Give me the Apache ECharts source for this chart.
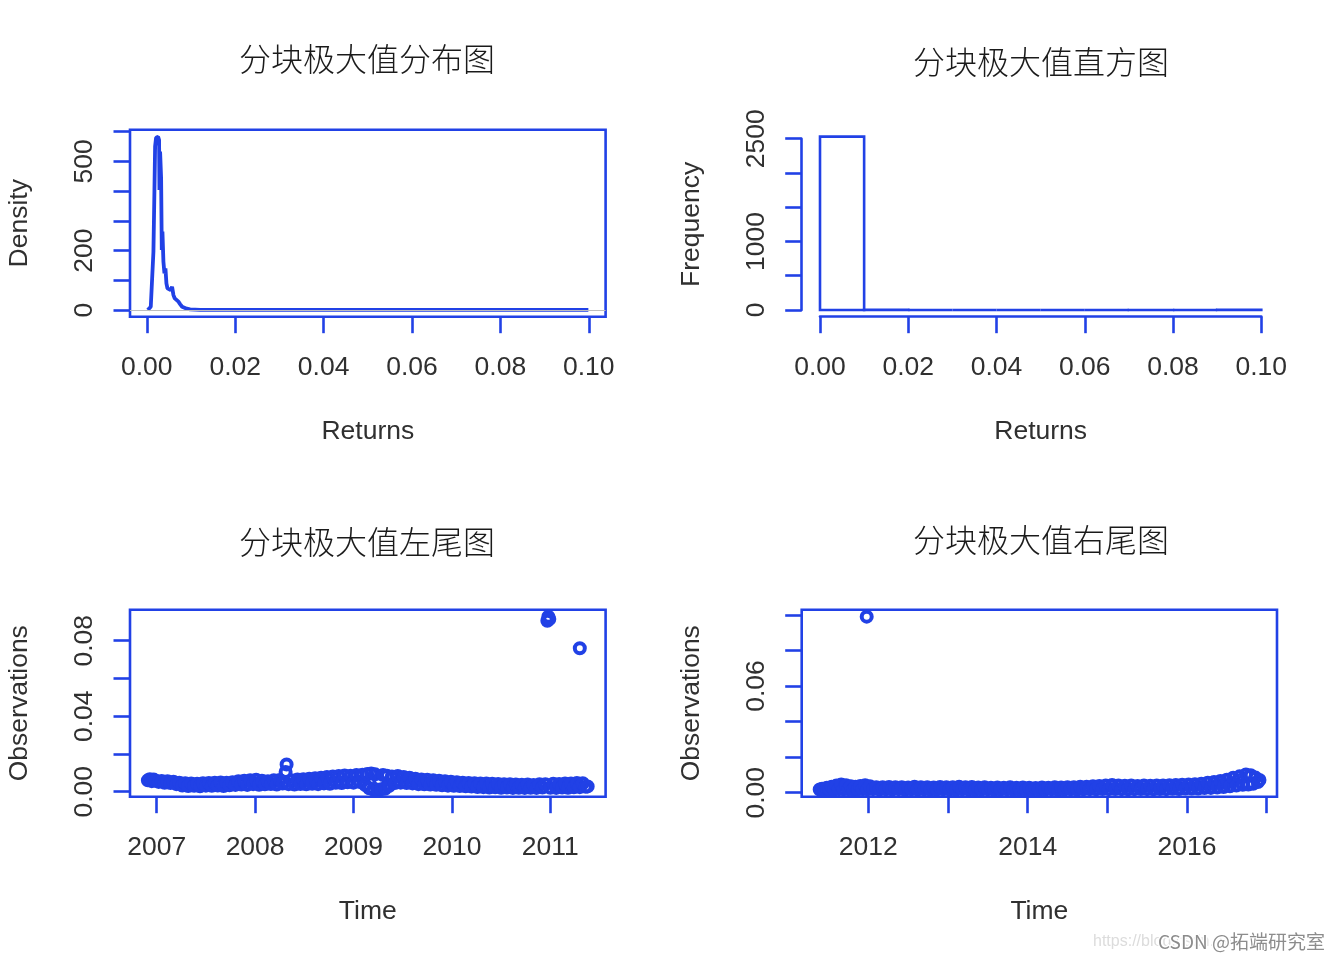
<!DOCTYPE html>
<html><head><meta charset="utf-8">
<script src="https://cdn.jsdelivr.net/npm/echarts@6/dist/echarts.min.js"></script>
<style>html,body{margin:0;padding:0;background:#fff}#c{width:1344px;height:960px}</style>
</head><body><div id="c"></div>
<script>
// ---------------- data ----------------
const titles = ['分块极大值分布图', '分块极大值直方图', '分块极大值左尾图', '分块极大值右尾图'];
const returnTicks = [0, 0.02, 0.04, 0.06, 0.08, 0.10];
const densityTicks = [0, 100, 200, 300, 400, 500, 600];
const densityLabels = [0, 200, 500];
const densityPoints = [
  [0.00022, 0], [0.00052, 5.6], [0.0009, 11], [0.00135, 9], [0.0015, 196], [0.00173, 404],
  [0.00188, 550], [0.0021, 580], [0.00256, 583], [0.00278, 572], [0.00286, 404], [0.00301, 533],
  [0.00324, 443], [0.00339, 202], [0.00354, 264], [0.00376, 163], [0.00399, 123], [0.00422, 140],
  [0.00444, 90], [0.00467, 73], [0.00505, 78], [0.00542, 67], [0.00572, 78], [0.00603, 50],
  [0.00633, 39], [0.00678, 39], [0.00716, 28], [0.00753, 20], [0.00799, 11], [0.00844, 8],
  [0.00904, 4.5], [0.0098, 2], [0.01206, 0.8], [0.03, 0.5], [0.06, 0.5], [0.09, 0.5], [0.0999, 0.5]
];
const histBreaks = [0, 0.01, 0.02, 0.03, 0.04, 0.05, 0.06, 0.07, 0.08, 0.09, 0.10];
const histCounts = [2530, 2, 0, 0, 0, 0, 0, 1, 0, 4];
const freqTicks = [0, 500, 1000, 1500, 2000, 2500];
const freqLabels = [0, 1000, 2500];
const leftYearTicks = [2007, 2008, 2009, 2010, 2011];
const leftObsTicks = [0, 0.02, 0.04, 0.06, 0.08];
const leftObsLabels = [0, 0.04, 0.08];
const leftTailPoints = [
  [2006.91,0.0060],[2006.93,0.0066],[2006.95,0.0056],[2006.97,0.0064],[2006.99,0.0058],[2007.02,0.0052],
  [2007.05,0.0057],[2007.08,0.0047],[2007.11,0.0055],[2007.14,0.0046],[2007.17,0.0053],[2007.20,0.0040],
  [2007.23,0.0048],[2007.26,0.0033],[2007.29,0.0045],[2007.32,0.0030],[2007.35,0.0044],[2007.38,0.0031],
  [2007.41,0.0042],[2007.44,0.0029],[2007.47,0.0045],[2007.50,0.0032],[2007.53,0.0046],[2007.56,0.0031],
  [2007.59,0.0047],[2007.62,0.0033],[2007.65,0.0049],[2007.68,0.0030],[2007.71,0.0048],[2007.74,0.0034],
  [2007.77,0.0050],[2007.80,0.0036],[2007.83,0.0055],[2007.86,0.0038],[2007.89,0.0058],[2007.92,0.0036],
  [2007.95,0.0061],[2007.98,0.0040],[2008.01,0.0063],[2008.04,0.0037],[2008.07,0.0058],[2008.10,0.0039],
  [2008.13,0.0055],[2008.16,0.0041],[2008.19,0.0060],[2008.22,0.0038],[2008.25,0.0062],[2008.28,0.0043],
  [2008.31,0.0104],[2008.32,0.0144],[2008.34,0.0040],[2008.37,0.0060],[2008.40,0.0038],[2008.43,0.0064],
  [2008.46,0.0041],[2008.49,0.0066],[2008.52,0.0039],[2008.55,0.0068],[2008.58,0.0042],[2008.61,0.0071],
  [2008.64,0.0040],[2008.67,0.0074],[2008.70,0.0044],[2008.73,0.0078],[2008.76,0.0042],[2008.79,0.0080],
  [2008.82,0.0047],[2008.85,0.0083],[2008.88,0.0046],[2008.91,0.0086],[2008.94,0.0050],[2008.97,0.0085],
  [2009.00,0.0048],[2009.03,0.0088],[2009.06,0.0052],[2009.09,0.0090],[2009.12,0.0035],[2009.14,0.0094],
  [2009.16,0.0018],[2009.18,0.0097],[2009.20,0.0012],[2009.22,0.0092],[2009.24,0.0010],[2009.26,0.0060],
  [2009.28,0.0013],[2009.30,0.0088],[2009.32,0.0016],[2009.34,0.0084],[2009.36,0.0030],[2009.39,0.0081],
  [2009.42,0.0046],[2009.45,0.0083],[2009.48,0.0048],[2009.51,0.0078],[2009.54,0.0046],[2009.57,0.0074],
  [2009.60,0.0044],[2009.63,0.0068],[2009.66,0.0040],[2009.69,0.0065],[2009.72,0.0039],[2009.75,0.0063],
  [2009.78,0.0038],[2009.81,0.0060],[2009.84,0.0037],[2009.87,0.0058],[2009.90,0.0034],[2009.93,0.0055],
  [2009.96,0.0032],[2009.99,0.0053],[2010.02,0.0031],[2010.05,0.0050],[2010.08,0.0030],[2010.11,0.0047],
  [2010.14,0.0029],[2010.17,0.0046],[2010.20,0.0027],[2010.23,0.0045],[2010.26,0.0025],[2010.29,0.0044],
  [2010.32,0.0024],[2010.35,0.0043],[2010.38,0.0022],[2010.41,0.0042],[2010.44,0.0023],[2010.47,0.0041],
  [2010.50,0.0021],[2010.53,0.0040],[2010.56,0.0022],[2010.59,0.0039],[2010.62,0.0020],[2010.65,0.0038],
  [2010.68,0.0021],[2010.71,0.0037],[2010.74,0.0020],[2010.77,0.0038],[2010.80,0.0021],[2010.83,0.0036],
  [2010.86,0.0020],[2010.89,0.0039],[2010.92,0.0022],[2010.95,0.0040],[2010.97,0.0906],[2010.98,0.0927],
  [2010.99,0.0915],[2011.00,0.0021],[2011.03,0.0042],[2011.06,0.0020],[2011.09,0.0041],[2011.12,0.0022],
  [2011.15,0.0043],[2011.18,0.0021],[2011.21,0.0044],[2011.24,0.0023],[2011.27,0.0046],[2011.30,0.0760],
  [2011.30,0.0024],[2011.33,0.0045],[2011.36,0.0026],[2011.38,0.0028]
];
const rightYearTicks = [2012, 2013, 2014, 2015, 2016, 2017];
const rightYearLabels = [2012, 2014, 2016];
const rightObsTicks = [0, 0.02, 0.04, 0.06, 0.08, 0.10];
const rightObsLabels = [0, 0.06];
const rightTailPoints = [
  [2011.39,0.0018],[2011.42,0.0022],[2011.45,0.0017],[2011.48,0.0028],[2011.51,0.0019],[2011.54,0.0033],
  [2011.57,0.0018],[2011.60,0.0040],[2011.63,0.0020],[2011.66,0.0046],[2011.69,0.0019],[2011.72,0.0042],
  [2011.75,0.0020],[2011.78,0.0036],[2011.81,0.0018],[2011.84,0.0034],[2011.87,0.0019],[2011.90,0.0038],
  [2011.93,0.0020],[2011.96,0.0042],[2011.98,0.0990],[2011.99,0.0019],[2012.02,0.0036],[2012.06,0.0020],
  [2012.10,0.0031],[2012.14,0.0018],[2012.18,0.0030],[2012.22,0.0019],[2012.26,0.0032],[2012.30,0.0018],
  [2012.34,0.0030],[2012.38,0.0020],[2012.42,0.0031],[2012.46,0.0017],[2012.50,0.0029],[2012.54,0.0019],
  [2012.58,0.0033],[2012.62,0.0018],[2012.66,0.0030],[2012.70,0.0019],[2012.74,0.0031],[2012.78,0.0017],
  [2012.82,0.0029],[2012.86,0.0018],[2012.90,0.0032],[2012.94,0.0019],[2012.98,0.0030],[2013.02,0.0018],
  [2013.06,0.0031],[2013.10,0.0017],[2013.14,0.0033],[2013.18,0.0019],[2013.22,0.0030],[2013.26,0.0018],
  [2013.30,0.0032],[2013.34,0.0017],[2013.38,0.0029],[2013.42,0.0018],[2013.46,0.0030],[2013.50,0.0019],
  [2013.54,0.0028],[2013.58,0.0017],[2013.62,0.0029],[2013.66,0.0018],[2013.70,0.0028],[2013.74,0.0019],
  [2013.78,0.0030],[2013.82,0.0017],[2013.86,0.0028],[2013.90,0.0018],[2013.94,0.0029],[2013.98,0.0017],
  [2014.02,0.0028],[2014.06,0.0018],[2014.10,0.0027],[2014.14,0.0017],[2014.18,0.0029],[2014.22,0.0018],
  [2014.26,0.0028],[2014.30,0.0019],[2014.34,0.0030],[2014.38,0.0017],[2014.42,0.0029],[2014.46,0.0018],
  [2014.50,0.0031],[2014.54,0.0019],[2014.58,0.0030],[2014.62,0.0018],[2014.66,0.0033],[2014.70,0.0019],
  [2014.74,0.0034],[2014.78,0.0020],[2014.82,0.0036],[2014.86,0.0019],[2014.90,0.0038],[2014.94,0.0021],
  [2014.98,0.0040],[2015.02,0.0020],[2015.06,0.0043],[2015.10,0.0021],[2015.14,0.0041],[2015.18,0.0020],
  [2015.22,0.0039],[2015.26,0.0019],[2015.30,0.0041],[2015.34,0.0020],[2015.38,0.0038],[2015.42,0.0021],
  [2015.46,0.0040],[2015.50,0.0020],[2015.54,0.0039],[2015.58,0.0019],[2015.62,0.0041],[2015.66,0.0021],
  [2015.70,0.0040],[2015.74,0.0020],[2015.78,0.0042],[2015.82,0.0022],[2015.86,0.0043],[2015.90,0.0021],
  [2015.94,0.0045],[2015.98,0.0023],[2016.02,0.0046],[2016.06,0.0024],[2016.10,0.0048],[2016.14,0.0024],
  [2016.18,0.0051],[2016.22,0.0026],[2016.26,0.0056],[2016.30,0.0027],[2016.34,0.0060],[2016.38,0.0029],
  [2016.42,0.0066],[2016.46,0.0032],[2016.50,0.0073],[2016.54,0.0036],[2016.58,0.0084],[2016.62,0.0040],
  [2016.66,0.0092],[2016.70,0.0044],[2016.74,0.0102],[2016.77,0.0046],[2016.80,0.0098],[2016.83,0.0050],
  [2016.86,0.0085],[2016.89,0.0060],[2016.91,0.0072]
];

// ---------------- style ----------------
const BLUE = '#2141e6';
const TEXT = '#303030';
const FONT = '"Liberation Sans", Arial, sans-serif';
const FS = 26.5;
const LW = 2.6;

const histData = histCounts.map((c, i) => [histBreaks[i], histBreaks[i + 1], c]);

function xAxisCfg(grid, min, max, ticks, labels, decimals, name, extra) {
  return Object.assign({
    type: 'value', gridIndex: grid, min: min, max: max,
    axisLine: { show: false, onZero: false, lineStyle: { color: BLUE, width: LW } },
    axisTick: { show: true, length: 16.5, customValues: ticks, lineStyle: { color: BLUE, width: LW } },
    axisLabel: { customValues: labels, margin: 37, fontSize: FS, fontFamily: FONT, color: TEXT,
      formatter: v => decimals ? Number(v).toFixed(decimals) : String(Math.round(v)) },
    splitLine: { show: false },
    name: name, nameLocation: 'middle', nameGap: 101,
    nameTextStyle: { fontSize: FS, fontFamily: FONT, color: TEXT }
  }, extra || {});
}
function yAxisCfg(grid, min, max, ticks, labels, decimals, name, extra) {
  return Object.assign({
    type: 'value', gridIndex: grid, min: min, max: max,
    axisLine: { show: false, onZero: false, lineStyle: { color: BLUE, width: LW } },
    axisTick: { show: true, length: 16.5, customValues: ticks, lineStyle: { color: BLUE, width: LW } },
    axisLabel: { customValues: labels, margin: 32, rotate: 90, fontSize: FS, fontFamily: FONT, color: TEXT,
      formatter: v => decimals ? Number(v).toFixed(decimals) : String(Math.round(v)) },
    splitLine: { show: false },
    name: name, nameLocation: 'middle', nameGap: 96.5, nameRotate: 90,
    nameTextStyle: { fontSize: FS, fontFamily: FONT, color: TEXT }
  }, extra || {});
}
const boxGrid = (l, t, w, h) => ({ left: l, top: t, width: w, height: h, show: true, borderColor: BLUE,
  borderWidth: LW, backgroundColor: 'transparent', containLabel: false, outerBoundsMode: 'none' });

const titlePos = [[367, 59], [1041, 62], [367, 542], [1041, 540]];

const scatterStyle = { color: 'rgba(0,0,0,0)', borderColor: BLUE, borderWidth: 4, opacity: 1 };

const option = {
  backgroundColor: '#fff',
  animation: false,
  title: titles.map((t, i) => ({
    text: t, left: titlePos[i][0], top: titlePos[i][1], textAlign: 'center', textVerticalAlign: 'middle',
    padding: 0,
    textStyle: { fontSize: 32, fontWeight: 300, fontFamily: '"Noto Sans CJK SC", sans-serif', color: '#1a1a1a' }
  })),
  grid: [
    boxGrid(130, 129.7, 475.6, 187),
    { left: 820, top: 138.7, width: 441.3, height: 171.3, show: false, containLabel: false, outerBoundsMode: 'none' },
    boxGrid(130, 609.7, 475.6, 187),
    boxGrid(801.7, 609.7, 475.3, 187)
  ],
  xAxis: [
    xAxisCfg(0, -0.0038, 0.1038, returnTicks, returnTicks, 2, 'Returns'),
    xAxisCfg(1, 0, 0.1, returnTicks, returnTicks, 2, 'Returns', {
      offset: 6.7,
      axisLine: { show: true, onZero: false, lineStyle: { color: BLUE, width: LW } } }),
    xAxisCfg(2, 2006.7285, 2011.5621, leftYearTicks, leftYearTicks, 0, 'Time'),
    xAxisCfg(3, 2011.164, 2017.13, rightYearTicks, rightYearLabels, 0, 'Time')
  ],
  yAxis: [
    yAxisCfg(0, -22.5, 606.7, densityTicks, densityLabels, 0, 'Density'),
    yAxisCfg(1, 0, 2500, freqTicks, freqLabels, 0, 'Frequency', {
      offset: 18.3,
      axisLine: { show: true, onZero: false, lineStyle: { color: BLUE, width: LW } } }),
    yAxisCfg(2, -0.00265, 0.09642, leftObsTicks, leftObsLabels, 2, 'Observations'),
    yAxisCfg(3, -0.00225, 0.1029, rightObsTicks, rightObsLabels, 2, 'Observations')
  ],
  series: [
    { type: 'line', xAxisIndex: 0, yAxisIndex: 0, data: densityPoints, showSymbol: false, symbol: 'none',
      lineStyle: { color: BLUE, width: 3.8 }, z: 2 },
    { type: 'line', xAxisIndex: 0, yAxisIndex: 0, data: [], z: 3, silent: true,
      markLine: { silent: true, symbol: 'none', label: { show: false },
        lineStyle: { color: '#bdbdbd', width: 1, type: 'solid' }, data: [{ yAxis: 0 }] } },
    { type: 'custom', xAxisIndex: 1, yAxisIndex: 1, data: histData, clip: false,
      encode: { x: [0, 1], y: 2 },
      renderItem: (params, api) => {
        const p0 = api.coord([api.value(0), api.value(2)]);
        const p1 = api.coord([api.value(1), 0]);
        return { type: 'rect',
          shape: { x: p0[0], y: p0[1], width: p1[0] - p0[0], height: p1[1] - p0[1] },
          style: { fill: 'rgba(0,0,0,0)', stroke: BLUE, lineWidth: LW } };
      } },
    { type: 'scatter', xAxisIndex: 2, yAxisIndex: 2, data: leftTailPoints, symbol: 'circle',
      symbolSize: 10, itemStyle: scatterStyle },
    { type: 'scatter', xAxisIndex: 3, yAxisIndex: 3, data: rightTailPoints, symbol: 'circle',
      symbolSize: 10, itemStyle: scatterStyle }
  ],
  graphic: [
    { type: 'text', x: 1093, y: 942, silent: true,
      style: { text: 'https://blog.csdn.net/', fontSize: 16, fontFamily: FONT, fill: '#dcdcdc', verticalAlign: 'middle' } },
    { type: 'text', x: 1158, y: 942, silent: true,
      style: { text: 'CSDN @拓端研究室', fontSize: 19, fontFamily: '"Noto Sans CJK SC", sans-serif', fill: '#8c8c8c',
        stroke: '#fff', lineWidth: 3, verticalAlign: 'middle' } }
  ]
};

const chart = echarts.init(document.getElementById('c'), null, { renderer: 'canvas' });
chart.setOption(option);
</script>
</body></html>
